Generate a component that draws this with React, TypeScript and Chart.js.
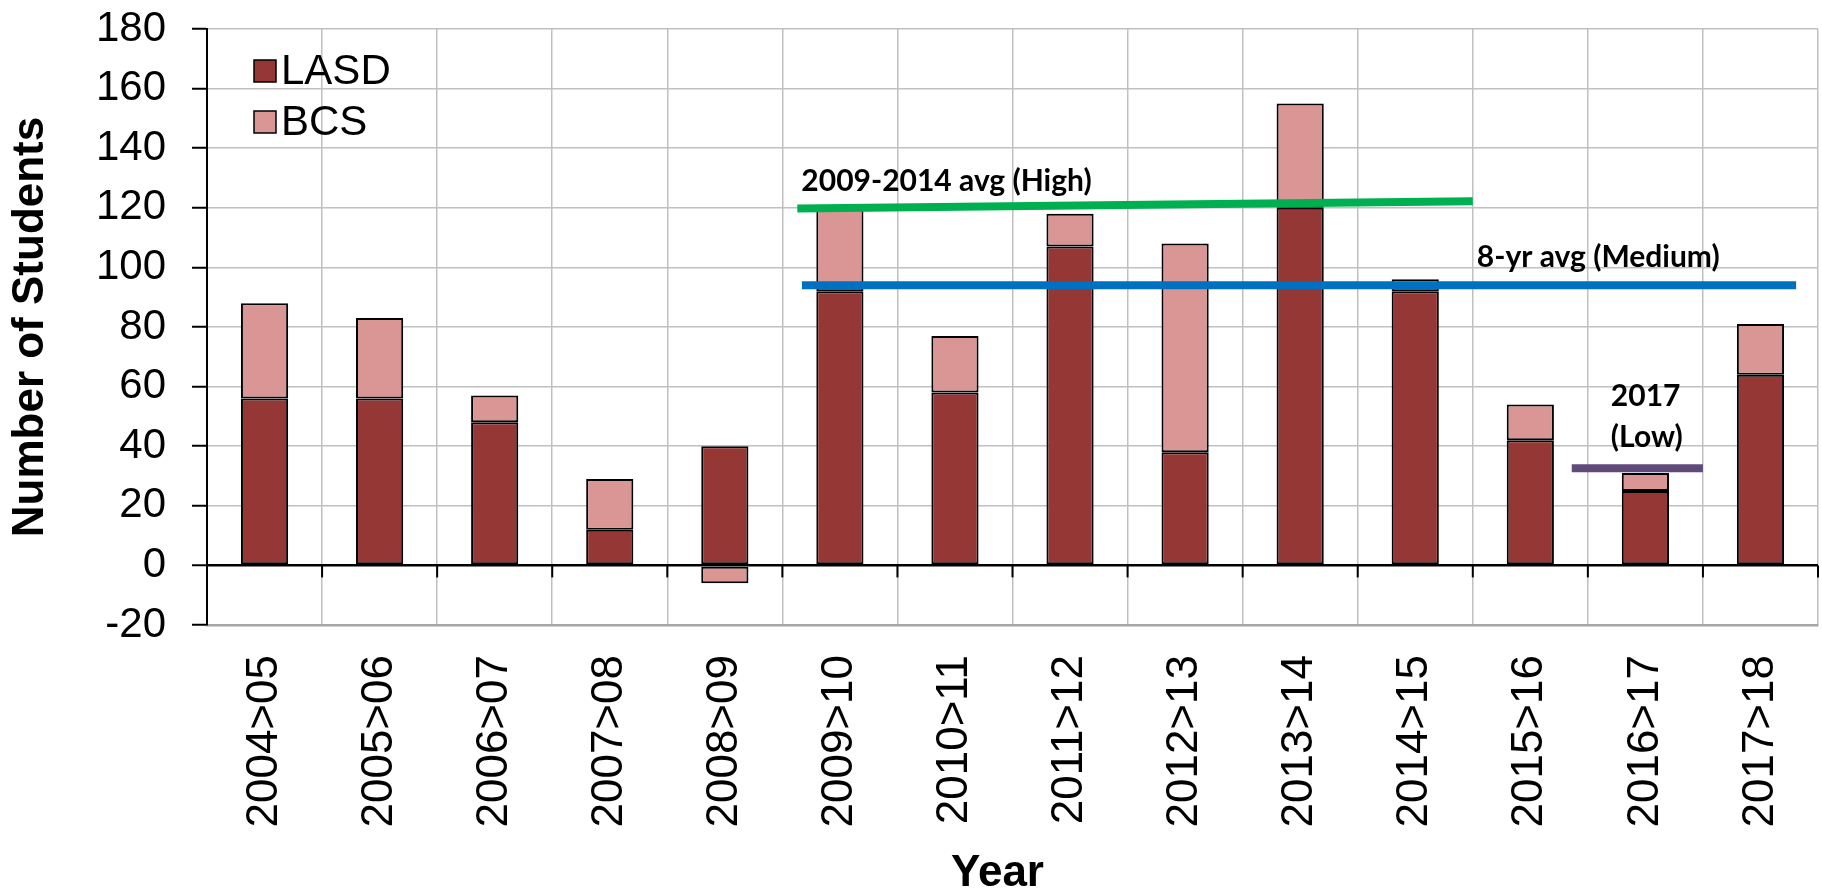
import React, { useEffect, useRef } from "react";
import { Chart, registerables } from "chart.js";

Chart.register(...registerables);

const categories = [
  "2004>05", "2005>06", "2006>07", "2007>08", "2008>09", "2009>10", "2010>11",
  "2011>12", "2012>13", "2013>14", "2014>15", "2015>16", "2016>17", "2017>18",
];
const lasdValues = [56, 56, 48, 12, 40, 92, 58, 107, 38, 120, 92, 42, 25, 64];
const bcsValues = [32, 27, 9, 17, -6, 28, 19, 11, 70, 35, 4, 12, 6, 17];

// reference lines (x in category-index units, y in students)
const highAvgLine = [{ x: 4.63, y: 119.8 }, { x: 10.5, y: 122.2 }];
const mediumAvgLine = [{ x: 4.67, y: 94 }, { x: 13.31, y: 94 }];
const lowLine = [{ x: 11.36, y: 32.6 }, { x: 12.5, y: 32.6 }];

const yMin = -20;
const yMax = 180;
const yStep = 20;

const annotationTexts = ["2009-2014 avg (High)", "8-yr avg (Medium)", "2017", "(Low)"];
const annotationX = [4.665, 10.535, 11.7, 11.7];
const annotationY = [125.7, 100.2, 53.4, 39.7];

const xTitle = "Year";
const yTitle = "Number of Students";

const BASE_FONT = "'Liberation Sans', Arial, Helvetica, sans-serif";
const NOTE_FONT = "bold 30px Lato, 'Open Sans', sans-serif";

const decorPlugin = {
  id: "decor",
  afterDraw(chart: any) {
    const { ctx, chartArea, scales } = chart;
    const y = scales.y;
    const x2 = scales.x2;
    ctx.save();

    // small tick marks hanging below the zero line at category boundaries
    const y0 = y.getPixelForValue(0);
    ctx.strokeStyle = "#000";
    ctx.lineWidth = 2;
    for (let i = 1; i <= categories.length; i++) {
      const px = x2.getPixelForValue(i - 0.5);
      ctx.beginPath();
      ctx.moveTo(px, y0);
      ctx.lineTo(px, y0 + 12);
      ctx.stroke();
    }

    // annotation texts
    ctx.fillStyle = "#000";
    ctx.font = NOTE_FONT;
    ctx.textAlign = "left";
    ctx.textBaseline = "alphabetic";
    annotationTexts.forEach((t, i) => {
      ctx.fillText(t, x2.getPixelForValue(annotationX[i]), y.getPixelForValue(annotationY[i]));
    });

    // x axis title
    ctx.font = `bold 44px ${BASE_FONT}`;
    ctx.textAlign = "center";
    ctx.fillText(xTitle, (chartArea.left + chartArea.right) / 2 - 15, chart.height - 4);

    // legend (inside plot, top-left)
    const lx = chartArea.left + 47;
    let ly = chartArea.top + 31;
    ctx.font = `42px ${BASE_FONT}`;
    ctx.textAlign = "left";
    ctx.textBaseline = "middle";
    [0, 1].forEach((di) => {
      const ds = chart.data.datasets[di];
      ctx.fillStyle = ds.backgroundColor;
      ctx.fillRect(lx, ly, 22, 22);
      ctx.strokeStyle = "#000";
      ctx.lineWidth = 1.5;
      ctx.strokeRect(lx, ly, 22, 22);
      ctx.fillStyle = "#000";
      ctx.fillText(ds.label, lx + 27, ly + 12);
      ly += 51;
    });
    ctx.restore();
  },
};

export default function App() {
  const canvasRef = useRef<HTMLCanvasElement | null>(null);

  useEffect(() => {
    if (!canvasRef.current) return;
    Chart.defaults.font.family = BASE_FONT;
    Chart.defaults.color = "#000";
    const barCommon = {
      type: "bar",
      borderColor: "#000",
      borderWidth: 2,
      borderSkipped: false,
      barPercentage: 0.41,
      categoryPercentage: 1,
      grouped: false,
      stack: "students",
      order: 1,
    };
    const lineCommon = {
      type: "line",
      xAxisID: "x2",
      borderWidth: 8,
      pointRadius: 0,
      borderCapStyle: "butt",
      order: 0,
    };
    const chart = new Chart(canvasRef.current, {
      type: "bar",
      data: {
        labels: categories,
        datasets: [
          { ...barCommon, label: "LASD", data: lasdValues, backgroundColor: "#953735" },
          { ...barCommon, label: "BCS", data: bcsValues, backgroundColor: "#D99694" },
          { ...lineCommon, label: "2009-2014 avg (High)", data: highAvgLine, borderColor: "#00B050", stack: "high" },
          { ...lineCommon, label: "8-yr avg (Medium)", data: mediumAvgLine, borderColor: "#0070C0", stack: "medium" },
          { ...lineCommon, label: "2017 (Low)", data: lowLine, borderColor: "#604A7B", stack: "low" },
        ] as any,
      },
      options: {
        animation: false,
        responsive: false,
        devicePixelRatio: 1,
        layout: { padding: { top: 29, right: 4, left: 0, bottom: 0 } },
        plugins: { legend: { display: false }, tooltip: { enabled: false } },
        scales: {
          x: {
            stacked: true,
            offset: true,
            ticks: {
              color: "#000",
              font: { size: 44 },
              minRotation: 90,
              maxRotation: 90,
              padding: 30,
              autoSkip: false,
            },
            grid: { color: "#c0c0c0", lineWidth: 1.5, drawTicks: false, offset: true },
            border: { color: "#a6a6a6", width: 2.5 },
            title: { display: false, text: xTitle },
            afterFit: (s: any) => {
              s.height = 265;
              s.paddingLeft = 0;
              s.paddingRight = 0;
            },
          },
          x2: {
            type: "linear",
            display: false,
            min: -0.5,
            max: 13.5,
            offset: false,
          },
          y: {
            stacked: true,
            min: yMin,
            max: yMax,
            ticks: {
              stepSize: yStep,
              color: "#000",
              font: { size: 42 },
              padding: 26,
            },
            grid: {
              color: (c: any) => (c.tick && c.tick.value === 0 ? "#000" : "#c0c0c0"),
              lineWidth: (c: any) => (c.tick && c.tick.value === 0 ? 2.5 : 1.5),
              tickColor: "#000",
              tickLength: 15,
              tickWidth: 2,
            },
            border: { color: "#000", width: 2 },
            title: {
              display: true,
              text: yTitle,
              color: "#000",
              font: { size: 44, weight: "bold" },
              padding: { top: 4, bottom: 0 },
            },
            afterFit: (s: any) => {
              s.width = 207;
              s.paddingTop = 0;
              s.paddingBottom = 0;
            },
          },
        } as any,
      },
      plugins: [decorPlugin],
    } as any);
    return () => chart.destroy();
  }, []);

  return (
    <div style={{ position: "fixed", left: 0, top: 0, width: 1822, height: 890, background: "#fff" }}>
      <canvas ref={canvasRef} width={1822} height={890} style={{ display: "block" }} />
    </div>
  );
}
